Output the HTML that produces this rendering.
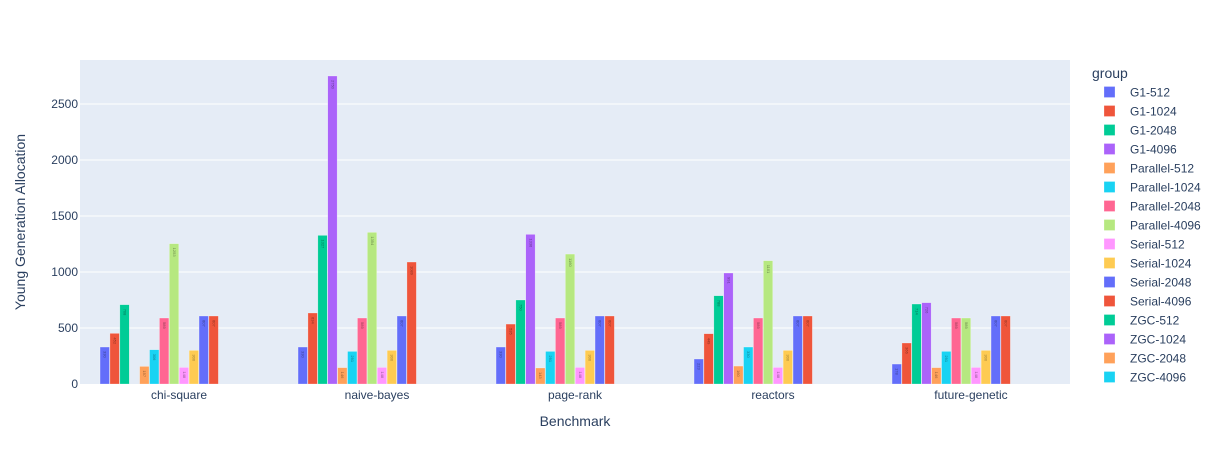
<!DOCTYPE html>
<html><head><meta charset="utf-8">
<style>
html,body{margin:0;padding:0;background:#fff;}
svg{display:block;font-family:"Liberation Sans",Arial,sans-serif;}
</style></head>
<body>
<svg id="chart" width="1227" height="465" viewBox="0 0 1227 465">
  <rect x="80" y="60" width="990" height="324" fill="#E5ECF6"/>
  <g id="grid"></g>
  <g id="bars"></g>
  <g id="yticks"></g>
  <g id="xticks"></g>
  <text x="575" y="426" text-anchor="middle" font-size="14" fill="#2a3f5f">Benchmark</text>
  <text transform="translate(25,222) rotate(-90)" text-anchor="middle" font-size="14" fill="#2a3f5f">Young Generation Allocation</text>
  <g id="legend">
    <text x="1092" y="78" font-size="14" fill="#2a3f5f">group</text>
  </g>
</svg>
<script>
const categories = ["chi-square","naive-bayes","page-rank","reactors","future-genetic"];
const groups = ["G1-512","G1-1024","G1-2048","G1-4096","Parallel-512","Parallel-1024","Parallel-2048","Parallel-4096","Serial-512","Serial-1024","Serial-2048","Serial-4096","ZGC-512","ZGC-1024","ZGC-2048","ZGC-4096"];
const colors = ["#636efa","#EF553B","#00cc96","#ab63fa","#FFA15A","#19d3f3","#FF6692","#B6E880","#FF97FF","#FECB52","#636efa","#EF553B","#00cc96","#ab63fa","#FFA15A","#19d3f3"];
// values per group, one per category (null = no bar)
const g1_512 = [330,330,330,223,178];
const g1_1024 = [452,634,535,449,366];
const g1_2048 = [708,1327,750,788,714];
const g1_4096 = [null,2750,1336,991,726];
const par_512 = [157,146,143,160,146];
const par_1024 = [306,291,291,330,291];
const par_2048 = [589,589,589,589,589];
const par_4096 = [1253,1354,1160,1101,589];
const ser_512 = [148,148,148,148,148];
const ser_1024 = [300,300,300,300,300];
const ser_2048 = [607,607,607,607,607];
const ser_4096 = [607,1089,607,607,607];
const zgc_512 = [null,null,null,null,null];
const zgc_1024 = [null,null,null,null,null];
const zgc_2048 = [null,null,null,null,null];
const zgc_4096 = [null,null,null,null,null];
const series = [g1_512,g1_1024,g1_2048,g1_4096,par_512,par_1024,par_2048,par_4096,ser_512,ser_1024,ser_2048,ser_4096,zgc_512,zgc_1024,zgc_2048,zgc_4096];
const yTicks = [0,500,1000,1500,2000,2500];

const NS="http://www.w3.org/2000/svg";
const X0=80, X1=1070, Y0=384, PX_PER_UNIT=56/500;
const yScale = v => Y0 - v*PX_PER_UNIT;
const catW = (X1-X0)/categories.length;
const catCenter = i => X0 + catW*(i+0.5);
const slotW = catW*0.8/groups.length;
const slotX = (ci,gi) => catCenter(ci) - catW*0.4 + gi*slotW;

function mk(tag, attrs, parent){const e=document.createElementNS(NS,tag);for(const k in attrs)e.setAttribute(k,attrs[k]);parent.appendChild(e);return e;}

const grid=document.getElementById('grid'), yt=document.getElementById('yticks');
yTicks.forEach(t=>{
  const y=yScale(t);
  if(t>0){const l=mk('line',{x1:X0,x2:X1,y1:y,y2:y,stroke:'#fff','stroke-width':1},grid);
    
    }
  const tx=mk('text',{x:X0-2,y:y+4,'text-anchor':'end','font-size':12,fill:'#2a3f5f'},yt);
  tx.textContent=t;
  
  
});
const xt=document.getElementById('xticks');
categories.forEach((c,i)=>{
  const tx=mk('text',{x:catCenter(i),y:399,'text-anchor':'middle','font-size':12,fill:'#2a3f5f'},xt);
  tx.textContent=c;
  
  
});
const bars=document.getElementById('bars');
series.forEach((vals,gi)=>{
  vals.forEach((v,ci)=>{
    if(v===null||v===undefined) return;
    const x=slotX(ci,gi), y=yScale(v), h=Y0-y;
    const r=mk('rect',{x:x+0.25,y:y,width:slotW-0.5,height:h,fill:colors[gi],stroke:'rgba(255,255,255,0.5)','stroke-width':0.5},bars);
    
    
    const cx=x+slotW/2, ty=y+4;
    const t=mk('text',{x:0,y:0,transform:`translate(${cx-1.2},${ty}) rotate(90)`,'font-size':4,fill:'rgba(0,0,0,0.45)'},bars);
    t.textContent=v;
    
    
  });
});
const lg=document.getElementById('legend');
groups.forEach((g,i)=>{
  const y=92+i*19;
  const r=mk('rect',{x:1104,y:y-5.5,width:11,height:11,fill:colors[i],stroke:'rgba(255,255,255,0.5)','stroke-width':0.5},lg);
  
  
  const t=mk('text',{x:1130,y:y+4.5,'font-size':12,fill:'#2a3f5f'},lg);
  t.textContent=g;
  
  
});
</script>
</body></html>
